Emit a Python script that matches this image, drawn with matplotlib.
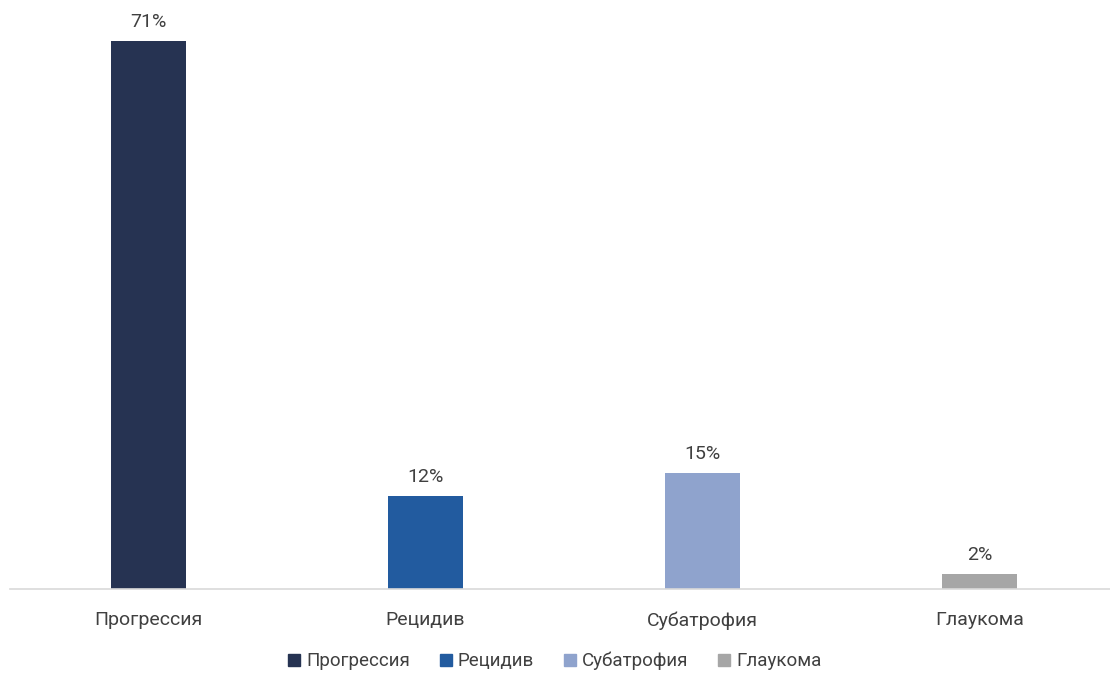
import matplotlib.pyplot as plt
from matplotlib.lines import Line2D

categories = ['Прогрессия', 'Рецидив', 'Субатрофия', 'Глаукома']
values = [71, 12, 15, 2]
colors = ['#263352', '#225b9f', '#8fa3cd', '#a6a6a6']

W, H = 1110, 673
plt.rcParams['font.family'] = ['Roboto', 'DejaVu Sans']
text_color = '#404040'

fig = plt.figure(figsize=(W / 100, H / 100), dpi=100)
# axes placed in pixel units: baseline at y=589, top at y=20
ax = fig.add_axes([10 / W, (H - 589) / H, 1108 / W, 569 / H])

x = range(len(categories))
bars = ax.bar(x, values, width=0.274, color=colors, zorder=2)
for b, v in zip(bars, values):
    ax.text(b.get_x() + b.get_width() / 2, v + 1.3, f'{v}%', ha='center',
            va='bottom', fontsize=14, color=text_color)

ax.set_xlim(-0.5, len(categories) - 0.5)
ax.set_ylim(0, 73.7)
ax.set_yticks([])
ax.set_xticks(list(x))
ax.set_xticklabels(categories, fontsize=14, color=text_color)
ax.tick_params(axis='x', length=0, pad=16)
for s in ['top', 'right', 'left']:
    ax.spines[s].set_visible(False)
ax.spines['bottom'].set_color('#d9d9d9')
ax.spines['bottom'].set_linewidth(1.2)

handles = [Line2D([], [], marker='s', linestyle='none', markersize=8,
                  markerfacecolor=c, markeredgecolor=c) for c in colors]
fig.legend(handles, categories, loc='center', bbox_to_anchor=(552 / W, (H - 661) / H),
           ncol=4, frameon=False, fontsize=13.5, handletextpad=0.05, handlelength=1.2,
           columnspacing=1.3, labelcolor=text_color)

fig.savefig('out.png', dpi=100)
